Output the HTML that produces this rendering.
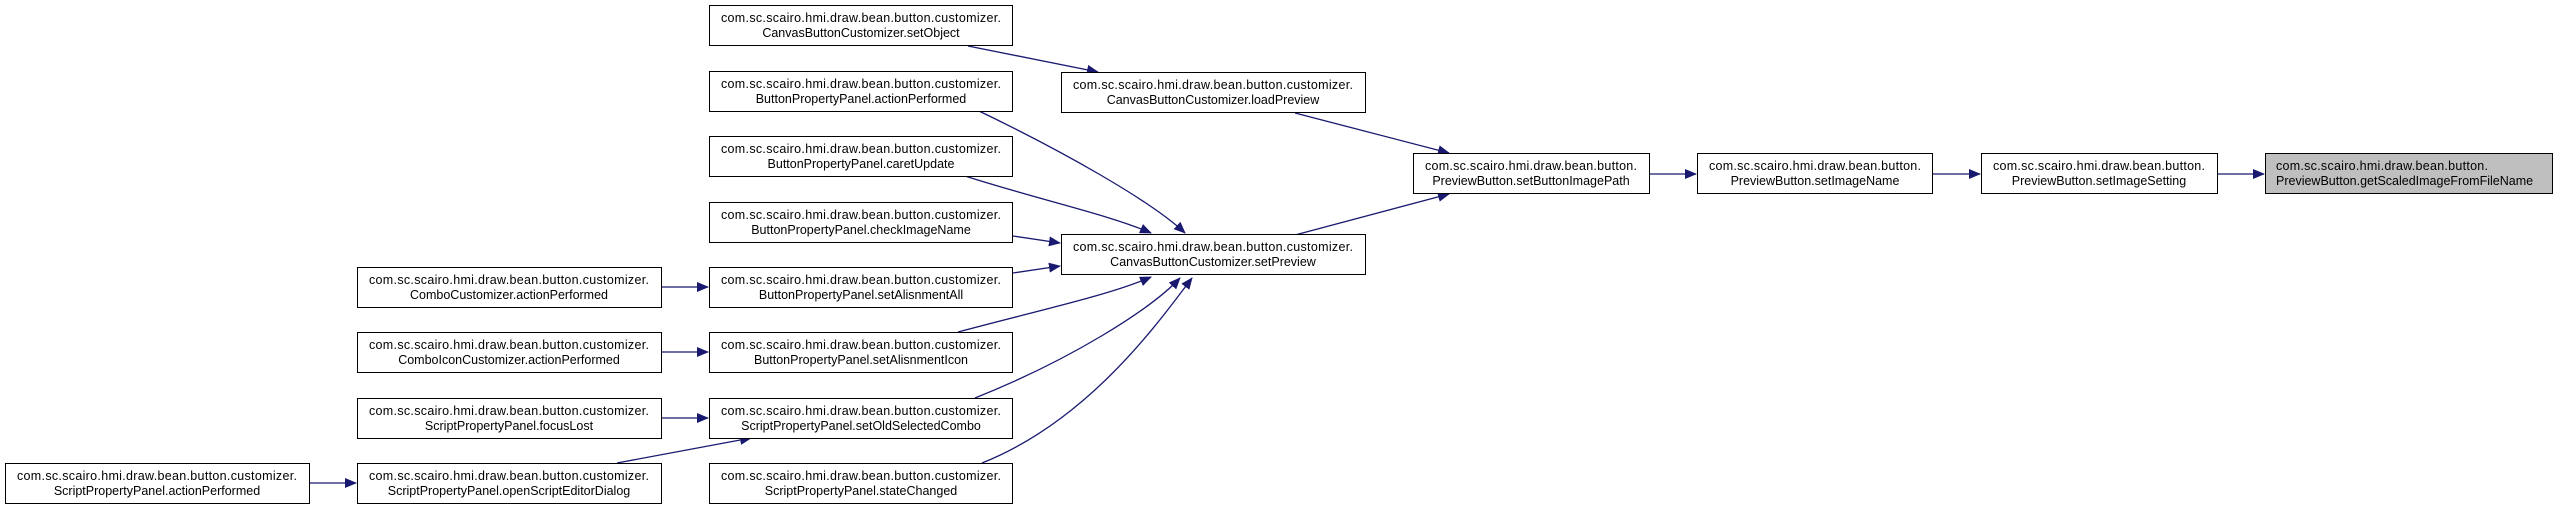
<!DOCTYPE html>
<html><head><meta charset="utf-8"><style>
html,body{margin:0;padding:0;background:#fff;}
svg{display:block;}
text{font-family:"Liberation Sans",Arial,sans-serif;font-size:12.5px;fill:#000;}
</style></head><body>
<svg width="2557" height="509" viewBox="0 0 2557 509" xmlns="http://www.w3.org/2000/svg">
<defs>
<marker id="a" markerWidth="12" markerHeight="10" refX="11" refY="5" orient="auto" markerUnits="userSpaceOnUse">
<path d="M0,0 L12,5 L0,10 Z" fill="#191970"/>
</marker>
</defs>
<g fill="none" stroke="#191970" stroke-width="1.3" marker-end="url(#a)">
<path d="M968,46 L1098,72"/>
<path d="M979,111 C1060,150 1150,200 1185,233"/>
<path d="M965,176 C1040,200 1110,215 1151,233"/>
<path d="M1013,236 L1060,243"/>
<path d="M1013,273 L1060,266"/>
<path d="M958,332 C1040,310 1110,295 1151,277"/>
<path d="M975,398 C1070,360 1150,310 1180,278"/>
<path d="M982,463 C1090,420 1160,320 1192,278"/>
<path d="M661,287 L708,287"/>
<path d="M661,352 L708,352"/>
<path d="M661,418 L708,418"/>
<path d="M617,463 L751,438"/>
<path d="M309,483 L356,483"/>
<path d="M1295,113 L1449,153"/>
<path d="M1295,235 L1449,194"/>
<path d="M1649,174 L1696,174"/>
<path d="M1932,174 L1980,174"/>
<path d="M2217,174 L2264,174"/>
</g>
<g stroke="#000" stroke-width="1" fill="#fff">
<rect x="709.5" y="5.5" width="303" height="40"/>
<rect x="709.5" y="71.5" width="303" height="40"/>
<rect x="709.5" y="136.5" width="303" height="40"/>
<rect x="709.5" y="202.5" width="303" height="40"/>
<rect x="709.5" y="267.5" width="303" height="40"/>
<rect x="709.5" y="332.5" width="303" height="40"/>
<rect x="709.5" y="398.5" width="303" height="40"/>
<rect x="709.5" y="463.5" width="303" height="40"/>
<rect x="357.5" y="267.5" width="304" height="40"/>
<rect x="357.5" y="332.5" width="304" height="40"/>
<rect x="357.5" y="398.5" width="304" height="40"/>
<rect x="357.5" y="463.5" width="304" height="40"/>
<rect x="5.5" y="463.5" width="304" height="40"/>
<rect x="1061.5" y="72.5" width="304" height="40"/>
<rect x="1061.5" y="234.5" width="304" height="40"/>
<rect x="1413.5" y="153.5" width="236" height="40"/>
<rect x="1697.5" y="153.5" width="235" height="40"/>
<rect x="1981.5" y="153.5" width="236" height="40"/>
<rect x="2265.5" y="153.5" width="287" height="40" fill="#bfbfbf"/>
</g>
<g text-anchor="middle">
<text x="861" y="22" textLength="280">com.sc.scairo.hmi.draw.bean.button.customizer.</text><text x="861" y="37">CanvasButtonCustomizer.setObject</text>
<text x="861" y="88" textLength="280">com.sc.scairo.hmi.draw.bean.button.customizer.</text><text x="861" y="103">ButtonPropertyPanel.actionPerformed</text>
<text x="861" y="153" textLength="280">com.sc.scairo.hmi.draw.bean.button.customizer.</text><text x="861" y="168">ButtonPropertyPanel.caretUpdate</text>
<text x="861" y="219" textLength="280">com.sc.scairo.hmi.draw.bean.button.customizer.</text><text x="861" y="234">ButtonPropertyPanel.checkImageName</text>
<text x="861" y="284" textLength="280">com.sc.scairo.hmi.draw.bean.button.customizer.</text><text x="861" y="299">ButtonPropertyPanel.setAlisnmentAll</text>
<text x="861" y="349" textLength="280">com.sc.scairo.hmi.draw.bean.button.customizer.</text><text x="861" y="364">ButtonPropertyPanel.setAlisnmentIcon</text>
<text x="861" y="415" textLength="280">com.sc.scairo.hmi.draw.bean.button.customizer.</text><text x="861" y="430">ScriptPropertyPanel.setOldSelectedCombo</text>
<text x="861" y="480" textLength="280">com.sc.scairo.hmi.draw.bean.button.customizer.</text><text x="861" y="495">ScriptPropertyPanel.stateChanged</text>
<text x="509" y="284" textLength="280">com.sc.scairo.hmi.draw.bean.button.customizer.</text><text x="509" y="299">ComboCustomizer.actionPerformed</text>
<text x="509" y="349" textLength="280">com.sc.scairo.hmi.draw.bean.button.customizer.</text><text x="509" y="364">ComboIconCustomizer.actionPerformed</text>
<text x="509" y="415" textLength="280">com.sc.scairo.hmi.draw.bean.button.customizer.</text><text x="509" y="430">ScriptPropertyPanel.focusLost</text>
<text x="509" y="480" textLength="280">com.sc.scairo.hmi.draw.bean.button.customizer.</text><text x="509" y="495">ScriptPropertyPanel.openScriptEditorDialog</text>
<text x="157" y="480" textLength="280">com.sc.scairo.hmi.draw.bean.button.customizer.</text><text x="157" y="495">ScriptPropertyPanel.actionPerformed</text>
<text x="1213" y="89" textLength="280">com.sc.scairo.hmi.draw.bean.button.customizer.</text><text x="1213" y="104">CanvasButtonCustomizer.loadPreview</text>
<text x="1213" y="251" textLength="280">com.sc.scairo.hmi.draw.bean.button.customizer.</text><text x="1213" y="266">CanvasButtonCustomizer.setPreview</text>
<text x="1531" y="170" textLength="212">com.sc.scairo.hmi.draw.bean.button.</text><text x="1531" y="185">PreviewButton.setButtonImagePath</text>
<text x="1815" y="170" textLength="212">com.sc.scairo.hmi.draw.bean.button.</text><text x="1815" y="185">PreviewButton.setImageName</text>
<text x="2099" y="170" textLength="212">com.sc.scairo.hmi.draw.bean.button.</text><text x="2099" y="185">PreviewButton.setImageSetting</text>
</g>
<text x="2276" y="170" textLength="212">com.sc.scairo.hmi.draw.bean.button.</text>
<text x="2276" y="185">PreviewButton.getScaledImageFromFileName</text>
</svg>
</body></html>
